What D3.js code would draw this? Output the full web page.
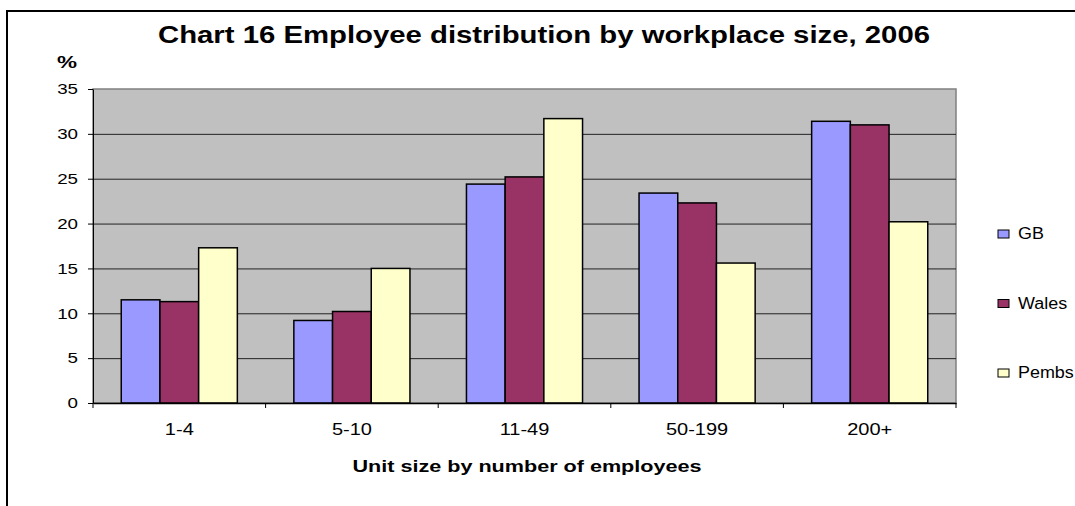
<!DOCTYPE html>
<html>
<head>
<meta charset="utf-8">
<script src="https://cdn.jsdelivr.net/npm/d3@7"></script>
<style>
  body { margin: 0; background: #fff; }
  text { font-family: "Liberation Sans", Arial, sans-serif; }
</style>
</head>
<body>
<div id="chart"></div>
<script>
const categories = ["1-4", "5-10", "11-49", "50-199", "200+"];
const seriesNames = ["GB", "Wales", "Pembs"];
const gb = [11.5, 9.2, 24.4, 23.4, 31.4];
const wales = [11.3, 10.2, 25.2, 22.3, 31.0];
const pembs = [17.3, 15.0, 31.7, 15.6, 20.2];
const yTicks = [0, 5, 10, 15, 20, 25, 30, 35];
const colours = ["#9999FF", "#993366", "#FFFFCC"];

const allSeries = [gb, wales, pembs];

const width = 1075;
const height = 506;
const plot = { left: 93, right: 956, top: 89, bottom: 403 };

const svg = d3.select("#chart")
    .append("svg")
    .attr("width", width)
    .attr("height", height);

// widen text the way the source image was widened
const widen = k => sel => sel.each(function () {
    const w = this.getComputedTextLength();
    d3.select(this).attr("textLength", w * k).attr("lengthAdjust", "spacingAndGlyphs");
});

// outer frame (only top and left show in the crop)
svg.append("rect")
    .attr("x", 7).attr("y", 11)
    .attr("width", 1100).attr("height", 600)
    .attr("fill", "none")
    .attr("stroke", "#000")
    .attr("stroke-width", 2);

const x0 = d3.scaleBand()
    .domain(categories)
    .range([plot.left, plot.right]);

const x1 = d3.scaleBand()
    .domain(seriesNames)
    .range([0, x0.bandwidth()])
    .paddingOuter(0.73)
    .paddingInner(0);

const y = d3.scaleLinear()
    .domain([0, 35])
    .range([plot.bottom, plot.top]);

// plot background
svg.append("rect")
    .attr("x", plot.left).attr("y", plot.top)
    .attr("width", plot.right - plot.left)
    .attr("height", plot.bottom - plot.top)
    .attr("fill", "#C0C0C0")
    .attr("stroke", "#808080")
    .attr("stroke-width", 1.5);

// gridlines
svg.append("g")
    .selectAll("line")
    .data(yTicks.filter(d => d > 0 && d < 35))
    .join("line")
    .attr("x1", plot.left).attr("x2", plot.right)
    .attr("y1", d => y(d) + 0.5).attr("y2", d => y(d) + 0.5)
    .attr("stroke", "#222")
    .attr("stroke-width", 1);

// bars
const groups = svg.append("g")
    .selectAll("g")
    .data(categories)
    .join("g")
    .attr("transform", d => `translate(${x0(d)},0)`);

groups.selectAll("rect")
    .data((c, i) => seriesNames.map((s, j) => ({ s, j, v: allSeries[j][i] })))
    .join("rect")
    .attr("x", d => x1(d.s))
    .attr("y", d => y(d.v))
    .attr("width", x1.bandwidth())
    .attr("height", d => y(0) - y(d.v))
    .attr("fill", d => colours[d.j])
    .attr("stroke", "#000")
    .attr("stroke-width", 1.5);

// y axis
const yAxis = svg.append("g")
    .attr("transform", `translate(${plot.left},0)`)
    .call(d3.axisLeft(y).tickValues(yTicks).tickSize(5).tickSizeOuter(0).tickPadding(10));
yAxis.select(".domain").attr("stroke", "#000").attr("stroke-width", 1);
yAxis.selectAll(".tick line").attr("stroke", "#000");
yAxis.selectAll("text")
    .attr("font-size", 15)
    .attr("fill", "#000")
    .style("font-family", "'Liberation Sans', Arial, sans-serif")
    .call(widen(1.25));

// x axis
const xAxis = svg.append("g")
    .attr("transform", `translate(0,${plot.bottom})`)
    .call(d3.axisBottom(x0).tickSize(0).tickPadding(21));
xAxis.select(".domain").attr("stroke", "#000").attr("stroke-width", 1.5);
xAxis.selectAll("text")
    .attr("font-size", 16)
    .attr("fill", "#000")
    .style("font-family", "'Liberation Sans', Arial, sans-serif")
    .call(widen(1.25));

// category separators on x axis
svg.append("g")
    .selectAll("line")
    .data(categories.map(c => x0(c)).concat([plot.right]))
    .join("line")
    .attr("x1", d => d).attr("x2", d => d)
    .attr("y1", plot.bottom).attr("y2", plot.bottom + 5)
    .attr("stroke", "#000");

// title
svg.append("text")
    .attr("x", 544).attr("y", 43)
    .attr("text-anchor", "middle")
    .attr("font-size", 23)
    .attr("font-weight", "bold")
    .attr("textLength", 772)
    .attr("lengthAdjust", "spacingAndGlyphs")
    .text("Chart 16 Employee distribution by workplace size, 2006");

svg.append("text")
    .attr("x", 67).attr("y", 68)
    .attr("text-anchor", "middle")
    .attr("font-size", 16)
    .attr("font-weight", "bold")
    .attr("textLength", 20)
    .attr("lengthAdjust", "spacingAndGlyphs")
    .text("%");

svg.append("text")
    .attr("x", 527).attr("y", 472)
    .attr("text-anchor", "middle")
    .attr("font-size", 16)
    .attr("font-weight", "bold")
    .attr("textLength", 349)
    .attr("lengthAdjust", "spacingAndGlyphs")
    .text("Unit size by number of employees");

// legend
const legend = svg.append("g")
    .selectAll("g")
    .data(seriesNames)
    .join("g")
    .attr("transform", (d, i) => `translate(998,${230 + i * 69.5})`);

legend.append("rect")
    .attr("width", 11).attr("height", 8)
    .attr("fill", (d, i) => colours[i])
    .attr("stroke", "#000")
    .attr("stroke-width", 1);

legend.append("text")
    .attr("x", 20).attr("y", 9)
    .attr("font-size", 16)
    .text(d => d)
    .call(widen(1.12));
</script>
</body>
</html>
